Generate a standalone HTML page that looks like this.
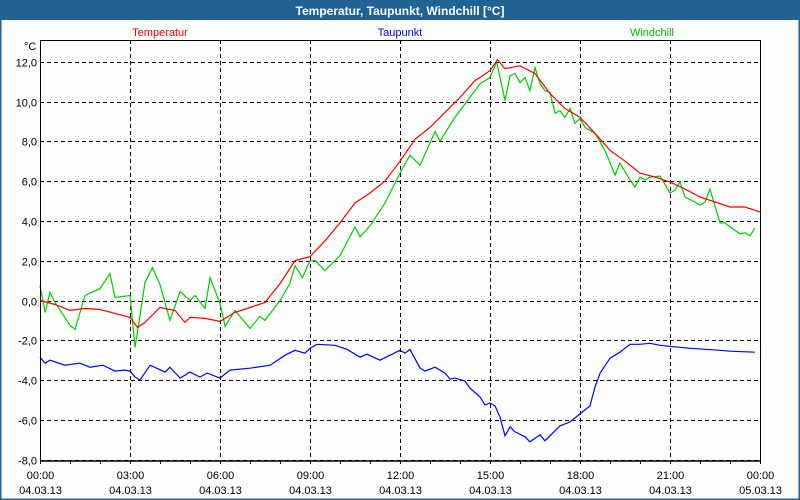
<!DOCTYPE html>
<html><head><meta charset="utf-8"><style>
body{margin:0;width:800px;height:500px;overflow:hidden;background:#fcfefc;font-family:"Liberation Sans",sans-serif}
</style></head><body>
<svg id="c" width="800" height="500" xmlns="http://www.w3.org/2000/svg" style="position:absolute;left:0;top:0;font-family:'Liberation Sans',sans-serif">
<rect x="0" y="0" width="800" height="500" fill="#fcfefc" stroke="#1f6293" stroke-width="3"/>
<rect x="0" y="0" width="800" height="20" fill="#1f6293"/>
<text x="400" y="15" text-anchor="middle" font-size="12" font-weight="bold" fill="#fff">Temperatur, Taupunkt, Windchill [°C]</text>
<text x="160" y="36" text-anchor="middle" font-size="11" fill="#ff0000">Temperatur</text>
<text x="400" y="36" text-anchor="middle" font-size="11" fill="#0000ff">Taupunkt</text>
<text x="652" y="36" text-anchor="middle" font-size="11" fill="#00bb00">Windchill</text>
<text x="24" y="50" font-size="11" fill="#000">°C</text>
<g id="grid"></g><g id="series"></g><g id="axes"></g>
</svg>
<script>
const yTicks=[12,10,8,6,4,2,0,-2,-4,-6,-8];
const yTickLabels=["12,0","10,0","8,0","6,0","4,0","2,0","0,0","-2,0","-4,0","-6,0","-8,0"];
const xTicks=[0,3,6,9,12,15,18,21,24];
const xTickLabels=["00:00","03:00","06:00","09:00","12:00","15:00","18:00","21:00","00:00"];
const xDateLabels=["04.03.13","04.03.13","04.03.13","04.03.13","04.03.13","04.03.13","04.03.13","04.03.13","05.03.13"];
const tempX=[0,0.5,1,1.5,2,2.5,3,3.25,3.5,4,4.5,4.83,5,5.5,6,6.5,7,7.5,8,8.5,9,9.5,10,10.5,11,11.5,12,12.5,13,13.5,14,14.5,15,15.25,15.5,16,16.5,17,17.5,18,18.5,19,19.5,20,20.5,21,21.5,22,22.5,23,23.5,24];
const tempV=[0,-0.2,-0.5,-0.4,-0.45,-0.65,-0.85,-1.35,-1.1,-0.35,-0.5,-1.1,-0.85,-0.9,-1.05,-0.6,-0.35,-0.1,0.85,2.0,2.2,3.0,3.9,4.9,5.4,6.0,7.0,8.1,8.7,9.45,10.2,11.05,11.55,12.1,11.65,11.8,11.4,10.4,9.65,9.2,8.4,7.55,7.0,6.4,6.2,5.95,5.6,5.2,4.95,4.7,4.7,4.45];
const dewX=[0,0.17,0.33,0.83,1.33,1.67,2.1,2.5,2.83,3,3.17,3.33,3.67,4.17,4.33,4.67,5,5.33,5.57,6,6.33,7,7.67,8.17,8.5,8.83,9,9.23,9.83,10.23,10.67,10.9,11.33,12,12.17,12.33,12.67,12.83,13.17,13.5,13.67,13.83,14.17,14.33,14.67,14.83,15,15.17,15.33,15.5,15.67,15.83,16.17,16.33,16.67,16.83,17.33,17.67,18,18.33,18.5,18.67,19,19.33,19.67,20,20.33,20.67,21,21.67,22.67,23,23.83];
const dewV=[-2.85,-3.15,-3.0,-3.25,-3.15,-3.35,-3.25,-3.55,-3.5,-3.55,-3.85,-4.0,-3.25,-3.6,-3.35,-3.9,-3.6,-3.85,-3.65,-3.9,-3.5,-3.4,-3.25,-2.75,-2.5,-2.65,-2.4,-2.2,-2.25,-2.45,-2.85,-2.7,-3.0,-2.5,-2.65,-2.45,-3.4,-3.55,-3.35,-3.65,-3.95,-3.9,-4.05,-4.4,-4.85,-5.25,-5.15,-5.3,-5.85,-6.8,-6.35,-6.6,-6.85,-7.1,-6.75,-7.05,-6.3,-6.1,-5.7,-5.3,-4.35,-3.65,-2.9,-2.6,-2.2,-2.2,-2.15,-2.25,-2.3,-2.4,-2.5,-2.55,-2.6];
const windX=[0,0.17,0.33,0.5,1,1.17,1.5,2,2.33,2.5,3,3.17,3.5,3.75,4,4.33,4.67,5,5.17,5.5,5.67,6,6.17,6.5,7,7.33,7.5,8,8.33,8.5,8.75,9,9.17,9.5,10,10.5,10.67,11,11.5,12,12.33,12.67,13.17,13.33,13.83,14.33,14.67,15,15.22,15.5,15.67,15.83,16,16.17,16.33,16.5,16.67,16.83,17,17.17,17.33,17.5,17.67,17.83,18,18.17,18.5,18.83,19.17,19.33,19.67,19.83,20,20.17,20.33,20.67,21,21.17,21.33,21.5,21.83,22,22.17,22.33,22.67,22.83,23,23.33,23.5,23.67,23.83];
const windV=[0.75,-0.6,0.4,-0.1,-1.25,-1.45,0.25,0.6,1.35,0.15,0.25,-2.35,0.9,1.65,0.8,-1.0,0.45,0,0.25,-0.4,1.15,-0.15,-1.3,-0.5,-1.4,-0.8,-1.0,0.0,0.85,1.75,1.15,2.0,2.0,1.5,2.25,3.7,3.2,3.75,4.9,6.4,7.3,6.8,8.5,8.0,9.2,10.2,10.9,11.2,12.0,10.05,11.3,11.4,10.95,11.2,10.55,11.7,10.9,10.55,10.45,9.4,9.55,9.2,9.65,8.9,9.15,8.7,8.4,7.55,6.3,6.9,6.05,5.7,6.2,6.05,6.2,6.25,5.4,5.55,5.95,5.2,4.95,4.8,4.95,5.6,3.9,3.9,3.7,3.35,3.4,3.25,3.65];

const NS="http://www.w3.org/2000/svg";
const L=40,R=760,T=40,B=460;
function xs(h){return L+(R-L)*h/24;}
function ys(v){return 300.5-19.9*v;}
function mk(tag,parent,attrs){const e=document.createElementNS(NS,tag);for(const k in attrs)e.setAttribute(k,attrs[k]);parent.appendChild(e);return e;}
const grid=document.getElementById('grid'),axes=document.getElementById('axes'),series=document.getElementById('series');
yTicks.forEach((v,i)=>{
  const y=Math.round(ys(v))+0.5;
  const g=mk('line',grid,{x1:L,x2:R,y1:y,y2:y,stroke:'#000','stroke-dasharray':'4,3','stroke-width':1});
  
  
  const t=mk('text',axes,{x:37,y:y+4,'text-anchor':'end','font-size':11,fill:'#000'});
  t.textContent=yTickLabels[i];
  
  
});
xTicks.forEach((h,i)=>{
  const x=Math.round(xs(h))+0.5;
  if(i>0&&i<xTicks.length-1){
    const g=mk('line',grid,{x1:x,x2:x,y1:T,y2:B,stroke:'#000','stroke-dasharray':'4,3','stroke-width':1});
    
    
  }
  const t=mk('text',axes,{x:x,y:479,'text-anchor':'middle','font-size':11,fill:'#000'});
  t.textContent=xTickLabels[i];
  
  
  const d=mk('text',axes,{x:x,y:494,'text-anchor':'middle','font-size':11,fill:'#000'});
  d.textContent=xDateLabels[i];
  
  
});
for(let h=0;h<=24;h++){
  const x=Math.round(xs(h))+0.5;
  const m=mk('line',axes,{x1:x,x2:x,y1:B,y2:B+4,stroke:'#000'});
  
  
}
const frame=mk('path',axes,{d:`M${L+0.5},${B+0.5}V${T+0.5}H${R+0.5}V${B+0.5}`,fill:'none',stroke:'#000','stroke-width':1});


const xa=mk('line',axes,{x1:L,x2:R,y1:B+1,y2:B+1,stroke:'#000','stroke-width':1.5});


function line(X,V,color,name){
  const p=mk('polyline',series,{points:X.map((h,i)=>xs(h).toFixed(1)+','+ys(V[i]).toFixed(1)).join(' '),fill:'none',stroke:color,'stroke-width':1.2});
  
  
}
line(dewX,dewV,'#0000ff','taupunkt-line');
line(windX,windV,'#00cc00','windchill-line');
line(tempX,tempV,'#ff0000','temperatur-line');
</script>
</body></html>
